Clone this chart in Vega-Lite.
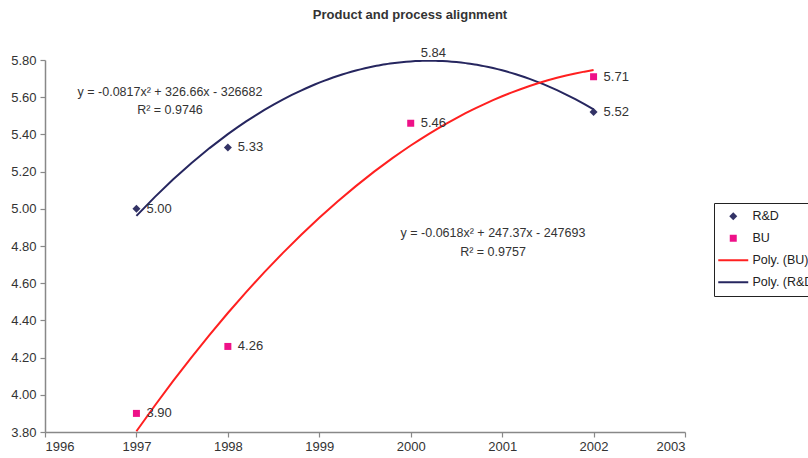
{
  "$schema": "https://vega.github.io/schema/vega-lite/v6.json",
  "autosize": "none",
  "width": 640,
  "height": 372,
  "padding": {"left": 45, "top": 60, "right": 123, "bottom": 26},
  "background": "white",
  "title": {"text": "Product and process alignment", "fontSize": 13, "fontWeight": "bold", "font": "Liberation Sans", "color": "#333333", "frame": "group", "anchor": "middle", "dx": 45, "offset": 25},
  "config": {
    "view": {"stroke": null},
    "axis": {"domainColor": "#888888", "tickColor": "#888888", "labelColor": "#333333", "labelFont": "Liberation Sans", "labelFontSize": 13, "grid": false, "tickSize": 5, "title": null, "domainWidth": 1.5, "tickWidth": 1.2, "labelOverlap": false},
    "text": {"font": "Liberation Sans", "fontSize": 13, "color": "#333333"}
  },
  "data": {"values": [
    {"x": 1997, "y": 5.00, "series": "R&D", "trend": "Poly. (R&D)"},
    {"x": 1998, "y": 5.33, "series": "R&D", "trend": "Poly. (R&D)"},
    {"x": 2000, "y": 5.84, "series": "R&D", "trend": "Poly. (R&D)"},
    {"x": 2002, "y": 5.52, "series": "R&D", "trend": "Poly. (R&D)"},
    {"x": 1997, "y": 3.90, "series": "BU", "trend": "Poly. (BU)"},
    {"x": 1998, "y": 4.26, "series": "BU", "trend": "Poly. (BU)"},
    {"x": 2000, "y": 5.46, "series": "BU", "trend": "Poly. (BU)"},
    {"x": 2002, "y": 5.71, "series": "BU", "trend": "Poly. (BU)"}
  ]},
  "layer": [
    {
      "transform": [{"regression": "y", "on": "x", "method": "poly", "order": 2, "groupby": ["trend"], "extent": [1997, 2002]}],
      "mark": {"type": "line", "clip": true, "strokeWidth": 2},
      "encoding": {
        "x": {"field": "x", "type": "quantitative", "scale": {"domain": [1996, 2003], "nice": false, "zero": false}, "axis": {"values": [1996, 1997, 1998, 1999, 2000, 2001, 2002, 2003], "format": "d", "labelPadding": 3, "labelOverlap": false}},
        "y": {"field": "y", "type": "quantitative", "scale": {"domain": [3.8, 5.8], "nice": false, "zero": false}, "axis": {"values": [3.8, 4.0, 4.2, 4.4, 4.6, 4.8, 5.0, 5.2, 5.4, 5.6, 5.8], "format": ".2f", "labelPadding": 4, "labelOverlap": false, "labelBound": false, "tickCount": 11}},
        "color": {"field": "trend", "type": "nominal",
          "scale": {"domain": ["R&D", "BU", "Poly. (BU)", "Poly. (R&D)"], "range": ["#333366", "#ee1188", "#ff2020", "#26265f"]},
          "legend": {"title": null, "orient": "none", "legendX": 669, "legendY": 143, "strokeColor": "#222222", "padding": 7, "labelFont": "Liberation Sans", "labelFontSize": 12.5, "labelColor": "#222222", "symbolSize": 900, "rowPadding": 9, "symbolOffset": 6, "labelOffset": 13,
            "encode": {"symbols": {"update": {
              "shape": {"signal": "datum.value == 'R&D' ? 'diamond' : datum.value == 'BU' ? 'square' : 'stroke'"},
              "size": {"signal": "datum.value == 'R&D' ? 64 : datum.value == 'BU' ? 49 : 900"},
              "fill": {"signal": "scale('color', datum.value)"},
              "stroke": {"signal": "scale('color', datum.value)"},
              "strokeWidth": {"signal": "datum.value == 'R&D' || datum.value == 'BU' ? 0 : 2"},
              "opacity": {"value": 1},
              "fillOpacity": {"value": 1},
              "strokeOpacity": {"value": 1}
            }}}}
        }
      }
    },
    {
      "mark": {"type": "point", "filled": true, "clip": true, "opacity": 1},
      "encoding": {
        "x": {"field": "x", "type": "quantitative"},
        "y": {"field": "y", "type": "quantitative"},
        "color": {"field": "series", "type": "nominal"},
        "shape": {"field": "series", "type": "nominal", "scale": {"domain": ["R&D", "BU"], "range": ["diamond", "square"]}, "legend": null},
        "size": {"field": "series", "type": "nominal", "scale": {"domain": ["R&D", "BU"], "range": [64, 49]}, "legend": null}
      }
    },
    {
      "mark": {"type": "text", "align": "left", "baseline": "middle", "dx": 10},
      "encoding": {
        "x": {"field": "x", "type": "quantitative"},
        "y": {"field": "y", "type": "quantitative"},
        "text": {"field": "y", "type": "quantitative", "format": ".2f"}
      }
    },
    {
      "data": {"values": [
        {"x": 1997.367, "y": 5.628, "label": "y = -0.0817x² + 326.66x - 326682"},
        {"x": 1997.367, "y": 5.531, "label": "R² = 0.9746"},
        {"x": 2000.90, "y": 4.870, "label": "y = -0.0618x² + 247.37x - 247693"},
        {"x": 2000.90, "y": 4.768, "label": "R² = 0.9757"}
      ]},
      "mark": {"type": "text", "align": "center", "baseline": "middle", "fontSize": 12.5},
      "encoding": {
        "x": {"field": "x", "type": "quantitative"},
        "y": {"field": "y", "type": "quantitative"},
        "text": {"field": "label", "type": "nominal"}
      }
    }
  ]
}
